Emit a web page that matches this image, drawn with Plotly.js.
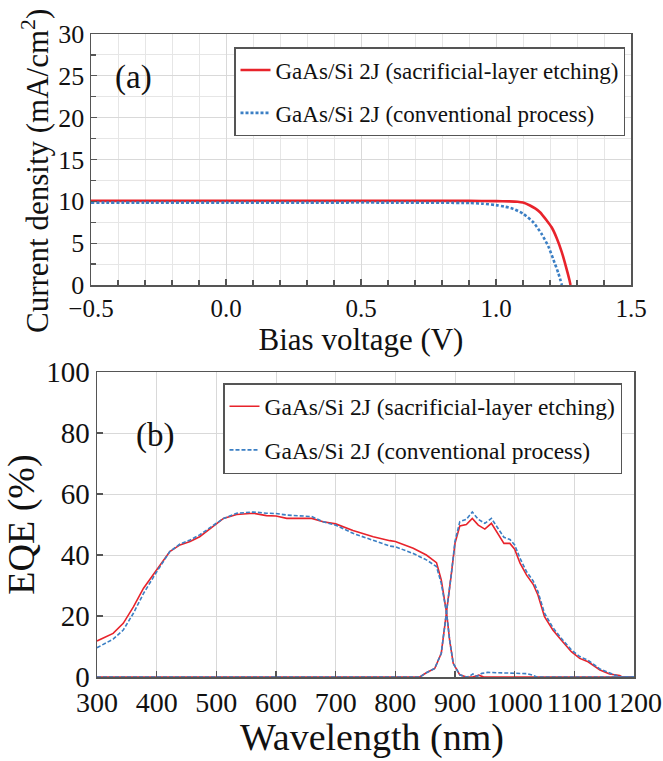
<!DOCTYPE html>
<html><head><meta charset="utf-8">
<script src="https://cdn.plot.ly/plotly-3.0.1.min.js"></script>
<style>html,body{margin:0;padding:0;background:#fff}#chart{width:663px;height:761px}</style>
</head><body><div id="chart"></div>
<script>
// ---------- Data ----------
const nameSac = 'GaAs/Si 2J (sacrificial-layer etching)';
const nameConv = 'GaAs/Si 2J (conventional process)';
const titleJV = 'Current density (mA/cm<sup>2</sup>)';
const titleV = 'Bias voltage (V)';
const titleEQE = 'EQE (%)';
const titleWl = 'Wavelength (nm)';

// (a) J-V curves
const jvSacV = [-0.5, -0.3, 0.0, 0.3, 0.6, 0.9, 1.0, 1.05, 1.08, 1.1, 1.126, 1.145, 1.163, 1.188, 1.206, 1.225, 1.243, 1.259, 1.272, 1.276];
const jvSacJ = [10.05, 10.05, 10.05, 10.05, 10.05, 10.05, 10.03, 10.0, 9.95, 9.85, 9.5, 9.15, 8.7, 7.7, 6.9, 5.6, 4.0, 2.2, 0.6, 0];
const jvConvV = [-0.5, -0.3, 0.0, 0.3, 0.6, 0.9, 0.95, 1.0, 1.03, 1.064, 1.101, 1.138, 1.169, 1.194, 1.213, 1.231, 1.244];
const jvConvJ = [9.85, 9.85, 9.85, 9.85, 9.85, 9.8, 9.72, 9.55, 9.38, 9.1, 8.5, 7.5, 6.1, 4.6, 3.0, 1.4, 0];

// (b) EQE, top (GaAs) and bottom (Si) subcells
const eqeSacTopWl = [300, 327, 344, 361, 378, 400, 422, 439, 456, 472, 500, 512, 534, 562, 584, 600, 618, 640, 660, 679, 700, 729, 763, 791, 800, 830, 852, 869, 877, 886, 891, 897, 908, 919, 930, 940, 948, 1200];
const eqeSacTop   = [11.8, 14.3, 17.6, 23.0, 29.1, 35.1, 41.1, 43.3, 44.4, 46.0, 50.4, 52.0, 53.3, 53.7, 52.9, 52.8, 52.0, 52.0, 52.0, 50.9, 50.2, 48.0, 46.0, 44.7, 44.4, 42.2, 40.0, 37.5, 31.8, 20.9, 12.1, 4.5, 0.7, 0, 0, 0.6, 0, 0];
const eqeConvTopWl = [300, 327, 344, 361, 378, 400, 422, 439, 456, 472, 500, 512, 534, 562, 584, 600, 618, 640, 660, 679, 700, 729, 763, 791, 800, 830, 852, 869, 877, 886, 891, 897, 908, 919, 925, 930, 937, 945, 955, 980, 1000, 1020, 1030, 1037, 1200];
const eqeConvTop   = [9.6, 12.4, 15.4, 20.9, 27.4, 34.5, 41.1, 43.6, 44.9, 46.6, 50.4, 52.0, 53.7, 54.1, 53.7, 53.6, 53.1, 52.8, 52.6, 50.9, 49.8, 47.1, 44.7, 42.9, 42.7, 40.5, 38.4, 36.2, 30.7, 20.9, 12.1, 4.5, 0.7, 0, 0.3, 1.0, 0.2, 1.2, 1.5, 1.4, 1.3, 1.1, 0.6, 0, 0];
const eqeSacBotWl = [300, 841, 852, 866, 877, 886, 894, 900, 908, 919, 929, 939, 950, 961, 972, 982, 992, 1000, 1009, 1020, 1031, 1039, 1050, 1064, 1078, 1095, 1109, 1123, 1143, 1159, 1176, 1180, 1200];
const eqeSacBot   = [0, 0, 1.4, 2.8, 7.8, 20.9, 34.0, 43.8, 49.5, 50.0, 52.0, 49.8, 48.5, 50.4, 47.1, 43.8, 43.8, 41.9, 37.3, 33.4, 30.4, 26.9, 19.8, 15.4, 12.1, 8.3, 6.1, 5.0, 2.3, 1.0, 0.5, 0, 0];
const eqeConvBotWl = [300, 841, 852, 866, 877, 886, 894, 900, 908, 919, 929, 939, 950, 961, 972, 982, 992, 1000, 1009, 1020, 1031, 1039, 1050, 1064, 1078, 1095, 1109, 1123, 1143, 1159, 1172, 1178, 1200];
const eqeConvBot   = [0, 0, 1.4, 2.8, 7.8, 20.9, 34.0, 44.5, 50.9, 51.7, 54.1, 51.7, 50.4, 52.0, 48.7, 45.8, 45.1, 43.3, 38.9, 34.5, 31.5, 28.0, 20.9, 16.2, 12.7, 8.9, 6.7, 5.5, 2.6, 1.2, 0.3, 0, 0];

// ---------- Styling ----------
const RED = '#e8232b';
const BLUE = '#3b7fc4';
const FONT = 'Liberation Serif';
const W = 663, H = 761;
const px = v => v / W;
const py = v => (H - v) / H;

const traces = [
  {x: jvSacV, y: jvSacJ, xaxis: 'x', yaxis: 'y', mode: 'lines', name: nameSac, legend: 'legend', legendgroup: 'a1',
   line: {color: RED, width: 2.6, shape: 'spline', smoothing: 0.6}},
  {x: jvConvV, y: jvConvJ, xaxis: 'x', yaxis: 'y', mode: 'lines', name: nameConv, legend: 'legend', legendgroup: 'a2',
   line: {color: BLUE, width: 2.6, dash: '3px,2px', shape: 'spline', smoothing: 0.6}},
  {x: eqeSacTopWl, y: eqeSacTop, xaxis: 'x2', yaxis: 'y2', mode: 'lines', name: nameSac, legend: 'legend2', legendgroup: 'b1',
   line: {color: RED, width: 1.6}},
  {x: eqeSacBotWl, y: eqeSacBot, xaxis: 'x2', yaxis: 'y2', mode: 'lines', name: nameSac, legend: 'legend2', legendgroup: 'b1', showlegend: false,
   line: {color: RED, width: 1.6}},
  {x: eqeConvTopWl, y: eqeConvTop, xaxis: 'x2', yaxis: 'y2', mode: 'lines', name: nameConv, legend: 'legend2', legendgroup: 'b2',
   line: {color: BLUE, width: 1.6, dash: '4px,2px'}},
  {x: eqeConvBotWl, y: eqeConvBot, xaxis: 'x2', yaxis: 'y2', mode: 'lines', name: nameConv, legend: 'legend2', legendgroup: 'b2', showlegend: false,
   line: {color: BLUE, width: 1.6, dash: '4px,2px'}}
];

const axisCommon = {
  showline: true, mirror: true, linecolor: '#555', linewidth: 1.5,
  ticks: 'inside', ticklen: 6, tickcolor: '#555', tickwidth: 1.2,
  gridcolor: '#d9d9d9', gridwidth: 1, zeroline: false, automargin: false,
  tickfont: {family: FONT, size: 26, color: '#111'}
};

const layout = {
  width: W, height: H,
  margin: {l: 0, r: 0, t: 0, b: 0},
  paper_bgcolor: '#fff', plot_bgcolor: '#fff',
  font: {family: FONT, color: '#111'},
  xaxis: Object.assign({}, axisCommon, {
    domain: [px(91), px(631)], anchor: 'y', range: [-0.5, 1.5], dtick: 0.5, tick0: -0.5, tickformat: '.1f',
    tickfont: {family: FONT, size: 25, color: '#111'},
    minor: {dtick: 0.1, ticks: 'inside', ticklen: 5, tickcolor: '#555', showgrid: true, gridcolor: '#e6e6e6'},
    title: {text: titleV, font: {family: FONT, size: 31, color: '#111'}, standoff: 8}
  }),
  yaxis: Object.assign({}, axisCommon, {
    domain: [py(285), py(34)], anchor: 'x', range: [0, 30], dtick: 5,
    minor: {dtick: 2.5, ticks: 'inside', ticklen: 5, tickcolor: '#555', showgrid: true, gridcolor: '#e6e6e6'}
  }),
  xaxis2: Object.assign({}, axisCommon, {
    domain: [px(97), px(634)], anchor: 'y2', range: [300, 1200], dtick: 100,
    tickfont: {family: FONT, size: 28, color: '#111'}
  }),
  yaxis2: Object.assign({}, axisCommon, {
    domain: [py(677), py(372)], anchor: 'x2', range: [0, 100], dtick: 20,
    tickfont: {family: FONT, size: 29, color: '#111'},
    title: {text: titleEQE, font: {family: FONT, size: 38, color: '#111'}, standoff: 6}
  }),
  legend: {
    x: px(625), xanchor: 'right', y: py(47), yanchor: 'top',
    bgcolor: '#fff', bordercolor: '#555', borderwidth: 1.5,
    font: {family: FONT, size: 23, color: '#111'},
    traceorder: 'grouped', tracegroupgap: 10, itemwidth: 30
  },
  legend2: {
    x: px(622), xanchor: 'right', y: py(383), yanchor: 'top',
    bgcolor: '#fff', bordercolor: '#555', borderwidth: 1.5,
    font: {family: FONT, size: 23.5, color: '#111'},
    traceorder: 'grouped', tracegroupgap: 10, itemwidth: 30
  },
  annotations: [
    {text: titleJV, xref: 'paper', yref: 'paper', x: px(35), y: py(171), xanchor: 'center', yanchor: 'middle', textangle: -90,
     showarrow: false, font: {family: FONT, size: 31, color: '#111'}},
    {text: titleWl, xref: 'paper', yref: 'paper', x: px(372), y: py(737), xanchor: 'center', yanchor: 'middle',
     showarrow: false, font: {family: FONT, size: 38, color: '#111'}},
    {text: '(a)', xref: 'paper', yref: 'paper', x: px(133), y: py(77), xanchor: 'center', yanchor: 'middle', showarrow: false,
     font: {family: FONT, size: 33, color: '#111'}},
    {text: '(b)', xref: 'paper', yref: 'paper', x: px(155), y: py(435), xanchor: 'center', yanchor: 'middle', showarrow: false,
     font: {family: FONT, size: 33, color: '#111'}}
  ],
  showlegend: true
};

Plotly.newPlot('chart', traces, layout, {staticPlot: true, displayModeBar: false});
</script>
</body></html>
